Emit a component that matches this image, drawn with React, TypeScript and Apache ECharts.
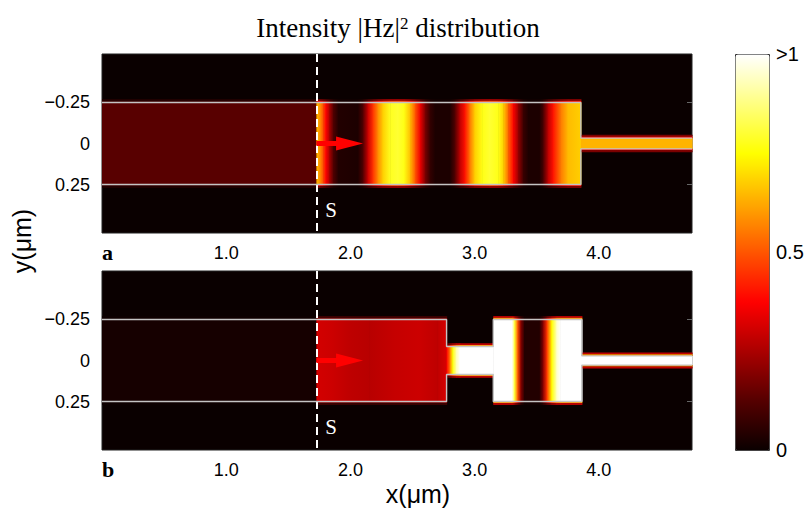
import React, { useEffect, useRef } from 'react';
import * as echarts from 'echarts';

// ---- axes / layout data ----
const X_MIN = 0;
const X_MAX = 4.75;
const Y_LIMIT = 0.545;
const X_TICKS = [1, 2, 3, 4];
const Y_TICKS = [-0.25, 0, 0.25];

// source plane and launch arrow (µm)
const SOURCE_X = 1.726;
const ARROW_FROM = 1.726;
const ARROW_TO = 1.993;
const S_LABEL_POS = [1.845, 0.405];

// MATLAB "hot" colormap, evenly spaced stops from 0 to 1
const HOT = ['#0a0000', '#550000', '#aa0000', '#ff0000', '#ff5500', '#ffaa00', '#ffff00', '#ffff80', '#ffffff'];

// colour bar labels
const CBAR_VALUES = [1, 0.5, 0];
const CBAR_LABELS = ['>1', '0.5', '0'];

// waveguide sections: [x start, x end, half width] (µm)
const sectionsA = [
  [0, 3.855, 0.25],
  [3.855, 4.75, 0.033],
];
const sectionsB = [
  [0, 2.774, 0.25],
  [2.774, 3.15, 0.085],
  [3.15, 3.863, 0.25],
  [3.863, 4.75, 0.028],
];

// intensity profile along the guide: [x (µm), |Hz|^2]
const profileA = [
  [0, 0.13], [1.726, 0.13],
  [1.726, 0.64], [1.75, 0.6], [1.78, 0.48], [1.8, 0.38], [1.83, 0.25], [1.86, 0.12], [1.9, 0.04],
  [2.06, 0.03], [2.1, 0.12], [2.14, 0.3], [2.18, 0.45], [2.22, 0.58], [2.26, 0.68], [2.32, 0.78],
  [2.38, 0.8], [2.43, 0.77], [2.48, 0.65], [2.52, 0.5], [2.56, 0.35], [2.6, 0.18], [2.64, 0.07], [2.68, 0.03],
  [2.8, 0.03], [2.84, 0.12], [2.88, 0.28], [2.92, 0.4], [2.96, 0.55], [3.0, 0.68], [3.06, 0.77],
  [3.12, 0.8], [3.19, 0.77], [3.23, 0.68], [3.27, 0.52], [3.31, 0.38], [3.35, 0.22], [3.39, 0.08], [3.43, 0.03],
  [3.52, 0.03], [3.55, 0.1], [3.59, 0.28], [3.63, 0.4], [3.69, 0.55], [3.75, 0.65], [3.855, 0.68],
  [3.855, 0.64], [4.75, 0.64],
];
const profileB = [
  [0, 0.02], [1.726, 0.02],
  [1.726, 0.31], [1.85, 0.3], [2.0, 0.28], [2.15, 0.27], [2.35, 0.29], [2.55, 0.3], [2.7, 0.28], [2.774, 0.32],
  [2.774, 0.38], [2.8, 0.55], [2.82, 0.75], [2.85, 0.92], [2.88, 1.0], [3.15, 1.0],
  [3.3, 1.0], [3.32, 0.8], [3.345, 0.5], [3.37, 0.2], [3.4, 0.04], [3.52, 0.04], [3.55, 0.2],
  [3.58, 0.45], [3.62, 0.75], [3.66, 0.95], [3.69, 1.0], [3.863, 1.0], [4.75, 1.0],
];

const GRID_LEFT = 102;
const GRID_W = 590;
const GRID_H = 179;
const GRID_TOPS = [54, 271];
const CBAR = { left: 735, top: 54, width: 34, height: 396 };

const SANS = 'Liberation Sans, Arial, Helvetica, sans-serif';
const SERIF = 'Liberation Serif, Times New Roman, serif';

function fmtY(v: number) {
  if (Math.abs(v) < 1e-9) return '0';
  return (v < 0 ? '\u2212' : '') + Math.abs(v).toFixed(2);
}

function hotAt(v: number, fallback: string) {
  const c: any = (echarts as any).color;
  if (c && typeof c.lerp === 'function') return c.lerp(Math.max(0, Math.min(1, v)), HOT);
  return fallback;
}

function fieldRender(sections: number[][]) {
  return function (params: any, api: any) {
    const i = params.dataIndexInside;
    const n = params.dataInsideLength;
    if (i >= n - 1) return null;
    const x0 = api.value(0, i);
    const x1 = api.value(0, i + 1);
    if (!(x1 > x0)) return null;
    const v0 = api.value(1, i);
    const v1 = api.value(1, i + 1);
    const mid = (x0 + x1) / 2;
    const sec = sections.find((s) => mid >= s[0] && mid <= s[1]);
    if (!sec) return null;
    const hw = sec[2];
    const a = api.coord([x0, -hw]);
    const b = api.coord([x1, hw]);
    const left = a[0];
    const w = b[0] - a[0] + 0.6;
    const top = Math.min(a[1], b[1]);
    const h = Math.abs(b[1] - a[1]);
    const c0 = api.visual('color', i);
    const c1 = api.visual('color', i + 1);
    const grad = (s0: string, s1: string) =>
      new echarts.graphic.LinearGradient(0, 0, 1, 0, [
        { offset: 0, color: s0 },
        { offset: 1, color: s1 },
      ]);
    const far0 = hotAt(v0 * 0.28, c0);
    const far1 = hotAt(v1 * 0.28, c1);
    const near0 = hotAt(v0 * 0.6, c0);
    const near1 = hotAt(v1 * 0.6, c1);
    return {
      type: 'group',
      children: [
        // glow strips above and below the guide
        { type: 'rect', shape: { x: left, y: top - 3.4, width: w, height: 1.9 }, style: { fill: grad(far0, far1) } },
        { type: 'rect', shape: { x: left, y: top - 1.6, width: w, height: 1.7 }, style: { fill: grad(near0, near1) } },
        { type: 'rect', shape: { x: left, y: top + h - 0.1, width: w, height: 1.7 }, style: { fill: grad(near0, near1) } },
        { type: 'rect', shape: { x: left, y: top + h + 1.5, width: w, height: 1.9 }, style: { fill: grad(far0, far1) } },
        // the guide itself
        { type: 'rect', shape: { x: left, y: top, width: w, height: h }, style: { fill: grad(c0, c1) } },
      ],
    };
  };
}

function edge(sections: number[][], sign: number) {
  const pts: number[][] = [];
  sections.forEach((s) => {
    pts.push([s[0], sign * s[2]]);
    pts.push([s[1], sign * s[2]]);
  });
  return pts;
}

function xAxisFor(gi: number) {
  return {
    type: 'value',
    gridIndex: gi,
    min: X_MIN,
    max: X_MAX,
    axisLine: { show: false },
    axisTick: { show: true, inside: true, length: 5, customValues: X_TICKS, lineStyle: { color: '#444' } },
    axisLabel: {
      customValues: X_TICKS,
      formatter: (v: number) => v.toFixed(1),
      margin: 11,
      color: '#000',
      fontSize: 18,
      fontFamily: SANS,
    },
    splitLine: { show: false },
  };
}

function yAxisFor(gi: number, right: boolean) {
  return {
    type: 'value',
    gridIndex: gi,
    position: right ? 'right' : 'left',
    min: -Y_LIMIT,
    max: Y_LIMIT,
    inverse: true,
    axisLine: { show: false },
    axisTick: { show: true, inside: true, length: 5, customValues: Y_TICKS, lineStyle: { color: '#666' } },
    axisLabel: {
      show: !right,
      customValues: Y_TICKS,
      formatter: fmtY,
      margin: 12,
      color: '#000',
      fontSize: 18,
      fontFamily: SANS,
    },
    splitLine: { show: false },
  };
}

function outlineSeries(sections: number[][], gi: number, sign: number, withMarks: boolean) {
  const s: any = {
    type: 'line',
    xAxisIndex: gi,
    yAxisIndex: gi * 2,
    data: edge(sections, sign),
    symbol: 'none',
    silent: true,
    z: 5,
    lineStyle: { color: '#c4c4c4', width: 1.4 },
  };
  if (withMarks) {
    s.markLine = {
      silent: true,
      symbol: 'none',
      label: { show: false },
      data: [
        { xAxis: SOURCE_X, lineStyle: { color: '#ffffff', width: 2, type: [8, 5] } },
        [
          { coord: [ARROW_FROM, 0], symbol: 'none', lineStyle: { color: '#ff0000', width: 5, type: 'solid' } },
          { coord: [ARROW_TO, 0], symbol: 'triangle', symbolSize: [14, 27] },
        ],
      ],
      lineStyle: { cap: 'butt' },
      itemStyle: { color: '#ff0000' },
    };
    s.markPoint = {
      silent: true,
      symbol: 'circle',
      symbolSize: 0,
      data: [{ coord: S_LABEL_POS }],
      label: {
        show: true,
        position: 'inside',
        formatter: 'S',
        color: '#ffffff',
        fontFamily: SERIF,
        fontSize: 21,
      },
    };
  }
  return s;
}

export default function App() {
  const ref = useRef<HTMLDivElement>(null);
  useEffect(() => {
    if (!ref.current) return;
    const chart = echarts.init(ref.current, null, { renderer: 'svg' });
    const cbarY = (v: number) => CBAR.top + (1 - v) * CBAR.height;
    const option: any = {
      animation: false,
      backgroundColor: '#ffffff',
      grid: GRID_TOPS.map((t) => ({
        left: GRID_LEFT,
        top: t,
        width: GRID_W,
        height: GRID_H,
        show: true,
        backgroundColor: HOT[0],
        borderColor: '#222',
        borderWidth: 1,
      })),
      xAxis: [xAxisFor(0), xAxisFor(1)],
      yAxis: [yAxisFor(0, false), yAxisFor(0, true), yAxisFor(1, false), yAxisFor(1, true)],
      visualMap: {
        type: 'continuous',
        show: true,
        min: 0,
        max: 1,
        dimension: 1,
        seriesIndex: [0, 1],
        calculable: false,
        hoverLink: false,
        inRange: { color: HOT },
        orient: 'vertical',
        left: CBAR.left,
        top: CBAR.top,
        itemWidth: CBAR.width,
        itemHeight: CBAR.height,
        padding: 0,
        borderColor: '#333',
        borderWidth: 1,
      },
      series: [
        {
          type: 'custom',
          xAxisIndex: 0,
          yAxisIndex: 0,
          data: profileA,
          encode: { x: 0, y: 1 },
          renderItem: fieldRender(sectionsA),
          silent: true,
          z: 2,
        },
        {
          type: 'custom',
          xAxisIndex: 1,
          yAxisIndex: 2,
          data: profileB,
          encode: { x: 0, y: 1 },
          renderItem: fieldRender(sectionsB),
          silent: true,
          z: 2,
        },
        outlineSeries(sectionsA, 0, -1, true),
        outlineSeries(sectionsA, 0, 1, false),
        outlineSeries(sectionsB, 1, -1, true),
        outlineSeries(sectionsB, 1, 1, false),
      ],
      graphic: [
        {
          type: 'text',
          x: 398,
          y: 28,
          style: {
            text: 'Intensity |Hz|{sup|2} distribution',
            align: 'center',
            verticalAlign: 'middle',
            fontFamily: SERIF,
            fontSize: 27,
            fill: '#000',
            rich: { sup: { fontFamily: SERIF, fontSize: 17, verticalAlign: 'top', fill: '#000' } },
          },
        },
        {
          type: 'text',
          x: GRID_LEFT,
          y: GRID_TOPS[0] + GRID_H + 19,
          style: { text: 'a', fontFamily: SERIF, fontWeight: 'bold', fontSize: 22, fill: '#000', verticalAlign: 'middle' },
        },
        {
          type: 'text',
          x: GRID_LEFT,
          y: GRID_TOPS[1] + GRID_H + 19,
          style: { text: 'b', fontFamily: SERIF, fontWeight: 'bold', fontSize: 22, fill: '#000', verticalAlign: 'middle' },
        },
        {
          type: 'text',
          x: 418,
          y: 494,
          style: { text: 'x(\u03bcm)', fontFamily: SANS, fontSize: 25, fill: '#000', align: 'center', verticalAlign: 'middle' },
        },
        {
          type: 'text',
          x: 22,
          y: 241,
          rotation: Math.PI / 2,
          style: { text: 'y(\u03bcm)', fontFamily: SANS, fontSize: 25, fill: '#000', align: 'center', verticalAlign: 'middle' },
        },
        {
          type: 'line',
          shape: { x1: CBAR.left, y1: cbarY(0.5), x2: CBAR.left + 4, y2: cbarY(0.5) },
          style: { stroke: '#111', lineWidth: 1 },
        },
        {
          type: 'line',
          shape: { x1: CBAR.left + CBAR.width - 4, y1: cbarY(0.5), x2: CBAR.left + CBAR.width, y2: cbarY(0.5) },
          style: { stroke: '#111', lineWidth: 1 },
        },
        ...CBAR_VALUES.map((v, k) => ({
          type: 'text',
          x: CBAR.left + CBAR.width + 7,
          y: cbarY(v),
          style: { text: CBAR_LABELS[k], fontFamily: SANS, fontSize: 20, fill: '#000', verticalAlign: 'middle' },
        })),
      ],
    };
    chart.setOption(option);
    return () => chart.dispose();
  }, []);
  return <div ref={ref} style={{ position: 'fixed', left: 0, top: 0, width: 806, height: 509 }} />;
}
